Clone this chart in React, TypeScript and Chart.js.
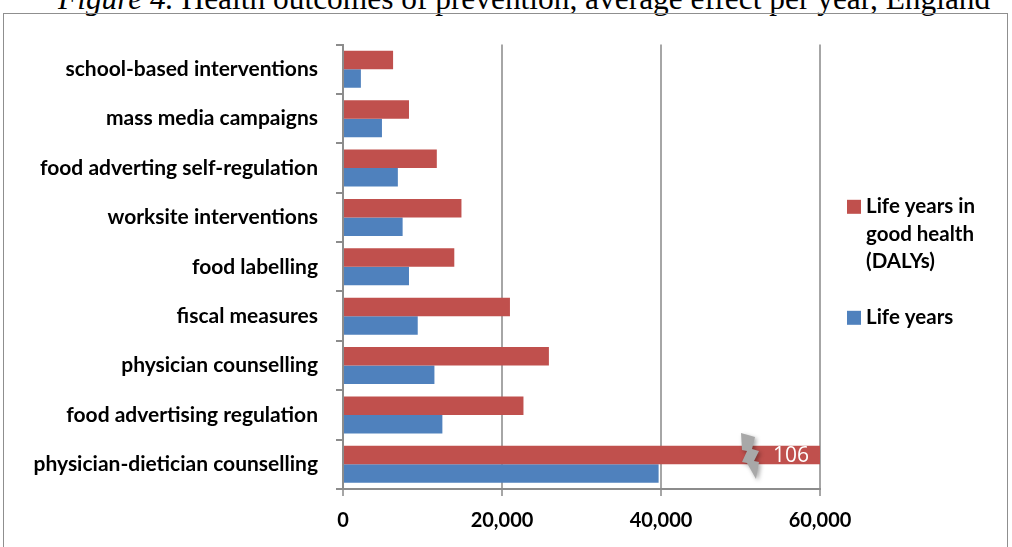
import React, { useEffect, useRef } from "react";
import { Chart, registerables } from "chart.js";

Chart.register(...registerables);

const categories = [
  "school-based interventions",
  "mass media campaigns",
  "food adverting self-regulation",
  "worksite interventions",
  "food labelling",
  "fiscal measures",
  "physician counselling",
  "food advertising regulation",
  "physician-dietician counselling",
];
const dalyValues = [6300, 8300, 11800, 14900, 14000, 21000, 25900, 22700, 106000];
const lifeYearValues = [2250, 4900, 6900, 7500, 8300, 9400, 11500, 12500, 39700];
const seriesLabels = [["Life years in", "good health", "(DALYs)"], ["Life years"]];
const seriesColors = ["#C0504D", "#4F81BD"];
const xMin = 0;
const xMax = 60000;
const xStep = 20000;
const titleItalic = "Figure 4.";
const titleRest = " Health outcomes of prevention, average effect per year, England";

const FONT = "Lato, 'Open Sans', sans-serif";

const customPlugin = {
  id: "customDecor",
  afterDatasetsDraw(chart: any) {
    const ctx = chart.ctx;
    const area = chart.chartArea;
    const max = chart.scales.x.max;
    const meta = chart.getDatasetMeta(0);
    const values = chart.data.datasets[0].data as number[];
    values.forEach((v, i) => {
      if (v <= max) return;
      const bar = meta.data[i];
      const cy = bar.y;
      const cx = area.right - 69;
      ctx.save();
      ctx.shadowColor = "rgba(0,0,0,0.35)";
      ctx.shadowBlur = 4;
      ctx.shadowOffsetX = 2;
      ctx.shadowOffsetY = 2;
      ctx.fillStyle = "#a8a8a8";
      ctx.beginPath();
      const pts = [
        [-10, -22], [4, -18], [1, -6], [8, -4], [3, 6], [8, 7], [5, 24],
        [-4, 8], [-9, 7], [-4, -4], [-9, -5],
      ];
      pts.forEach(([px, py], k) => {
        if (k === 0) ctx.moveTo(cx + px, cy + py);
        else ctx.lineTo(cx + px, cy + py);
      });
      ctx.closePath();
      ctx.fill();
      ctx.restore();
      ctx.save();
      ctx.fillStyle = "#ffffff";
      ctx.font = "21px 'Open Sans', Lato, sans-serif";
      ctx.textAlign = "center";
      ctx.textBaseline = "middle";
      ctx.fillText(String(Math.round(v / 1000)), area.right - 29, cy + 1);
      ctx.restore();
    });
  },
  afterDraw(chart: any) {
    const ctx = chart.ctx;
    const area = chart.chartArea;
    const centerY = (area.top + area.bottom) / 2;
    const lineH = 27.5;
    const x0 = area.right + 27;
    let y = centerY - 60;
    ctx.save();
    ctx.font = "bold 20.5px " + FONT;
    ctx.textBaseline = "middle";
    ctx.textAlign = "left";
    chart.data.datasets.forEach((ds: any) => {
      const lines: string[] = Array.isArray(ds.label) ? ds.label : [ds.label];
      ctx.fillStyle = ds.backgroundColor;
      ctx.fillRect(x0, y - 7, 14, 14);
      ctx.fillStyle = "#000000";
      lines.forEach((ln, k) => {
        ctx.fillText(ln, x0 + 19, y + k * lineH);
      });
      y += lines.length * lineH + 28.5;
    });
    ctx.restore();
  },
};

function ChartCanvas() {
  const ref = useRef<HTMLCanvasElement | null>(null);
  useEffect(() => {
    if (!ref.current) return;
    const chart = new Chart(ref.current, {
      type: "bar",
      data: {
        labels: categories,
        datasets: [
          {
            label: seriesLabels[0] as any,
            data: dalyValues,
            backgroundColor: seriesColors[0],
            categoryPercentage: 0.75,
            barPercentage: 1.0,
          },
          {
            label: seriesLabels[1] as any,
            data: lifeYearValues,
            backgroundColor: seriesColors[1],
            categoryPercentage: 0.75,
            barPercentage: 1.0,
          },
        ],
      },
      options: {
        indexAxis: "y",
        animation: false,
        responsive: true,
        maintainAspectRatio: false,
        layout: { padding: { left: 0, right: 186, top: 26, bottom: 8 } },
        plugins: {
          legend: { display: false },
          tooltip: { enabled: false },
          title: { display: false },
        },
        scales: {
          x: {
            min: xMin,
            max: xMax,
            ticks: {
              stepSize: xStep,
              color: "#000000",
              font: { family: FONT, size: 20, weight: "bold" },
              padding: 13,
              callback: (v: any) => Number(v).toLocaleString("en-US"),
            },
            grid: {
              color: "#a6a6a6",
              lineWidth: 2,
              tickLength: 7,
              drawOnChartArea: true,
            },
            border: { display: true, color: "#8c8c8c", width: 2 },
            afterFit: (scale: any) => {
              scale.height = 50;
            },
          },
          y: {
            type: "category",
            offset: true,
            ticks: {
              color: "#000000",
              font: { family: FONT, size: 21, weight: "bold" },
              padding: 18,
            },
            grid: {
              display: true,
              drawOnChartArea: false,
              drawTicks: true,
              tickLength: 7,
              color: "#8c8c8c",
              lineWidth: 2,
              offset: true,
            },
            border: { display: true, color: "#8c8c8c", width: 2 },
            afterFit: (scale: any) => {
              scale.width = 339;
            },
          },
        },
      },
      plugins: [customPlugin],
    });
    return () => chart.destroy();
  }, []);
  return <canvas ref={ref} />;
}

export default function App() {
  return (
    <div
      style={{
        position: "fixed",
        left: 0,
        top: 0,
        width: 1012,
        height: 547,
        overflow: "hidden",
        background: "#ffffff",
      }}
    >
      <div
        style={{
          position: "absolute",
          left: 58,
          top: -17.3,
          whiteSpace: "nowrap",
          fontFamily: "'Liberation Serif', 'Times New Roman', serif",
          fontSize: 31.4,
          lineHeight: "31.4px",
          color: "#000",
        }}
      >
        <i>{titleItalic}</i>
        {titleRest}
      </div>
      <div
        style={{
          position: "absolute",
          left: 3,
          top: 13,
          width: 1005,
          height: 560,
          border: "1.5px solid #8f8f8f",
          boxSizing: "border-box",
        }}
      />
      <div
        style={{
          position: "absolute",
          left: 4,
          top: 14,
          width: 1002,
          height: 533,
        }}
      >
        <ChartCanvas />
      </div>
    </div>
  );
}
